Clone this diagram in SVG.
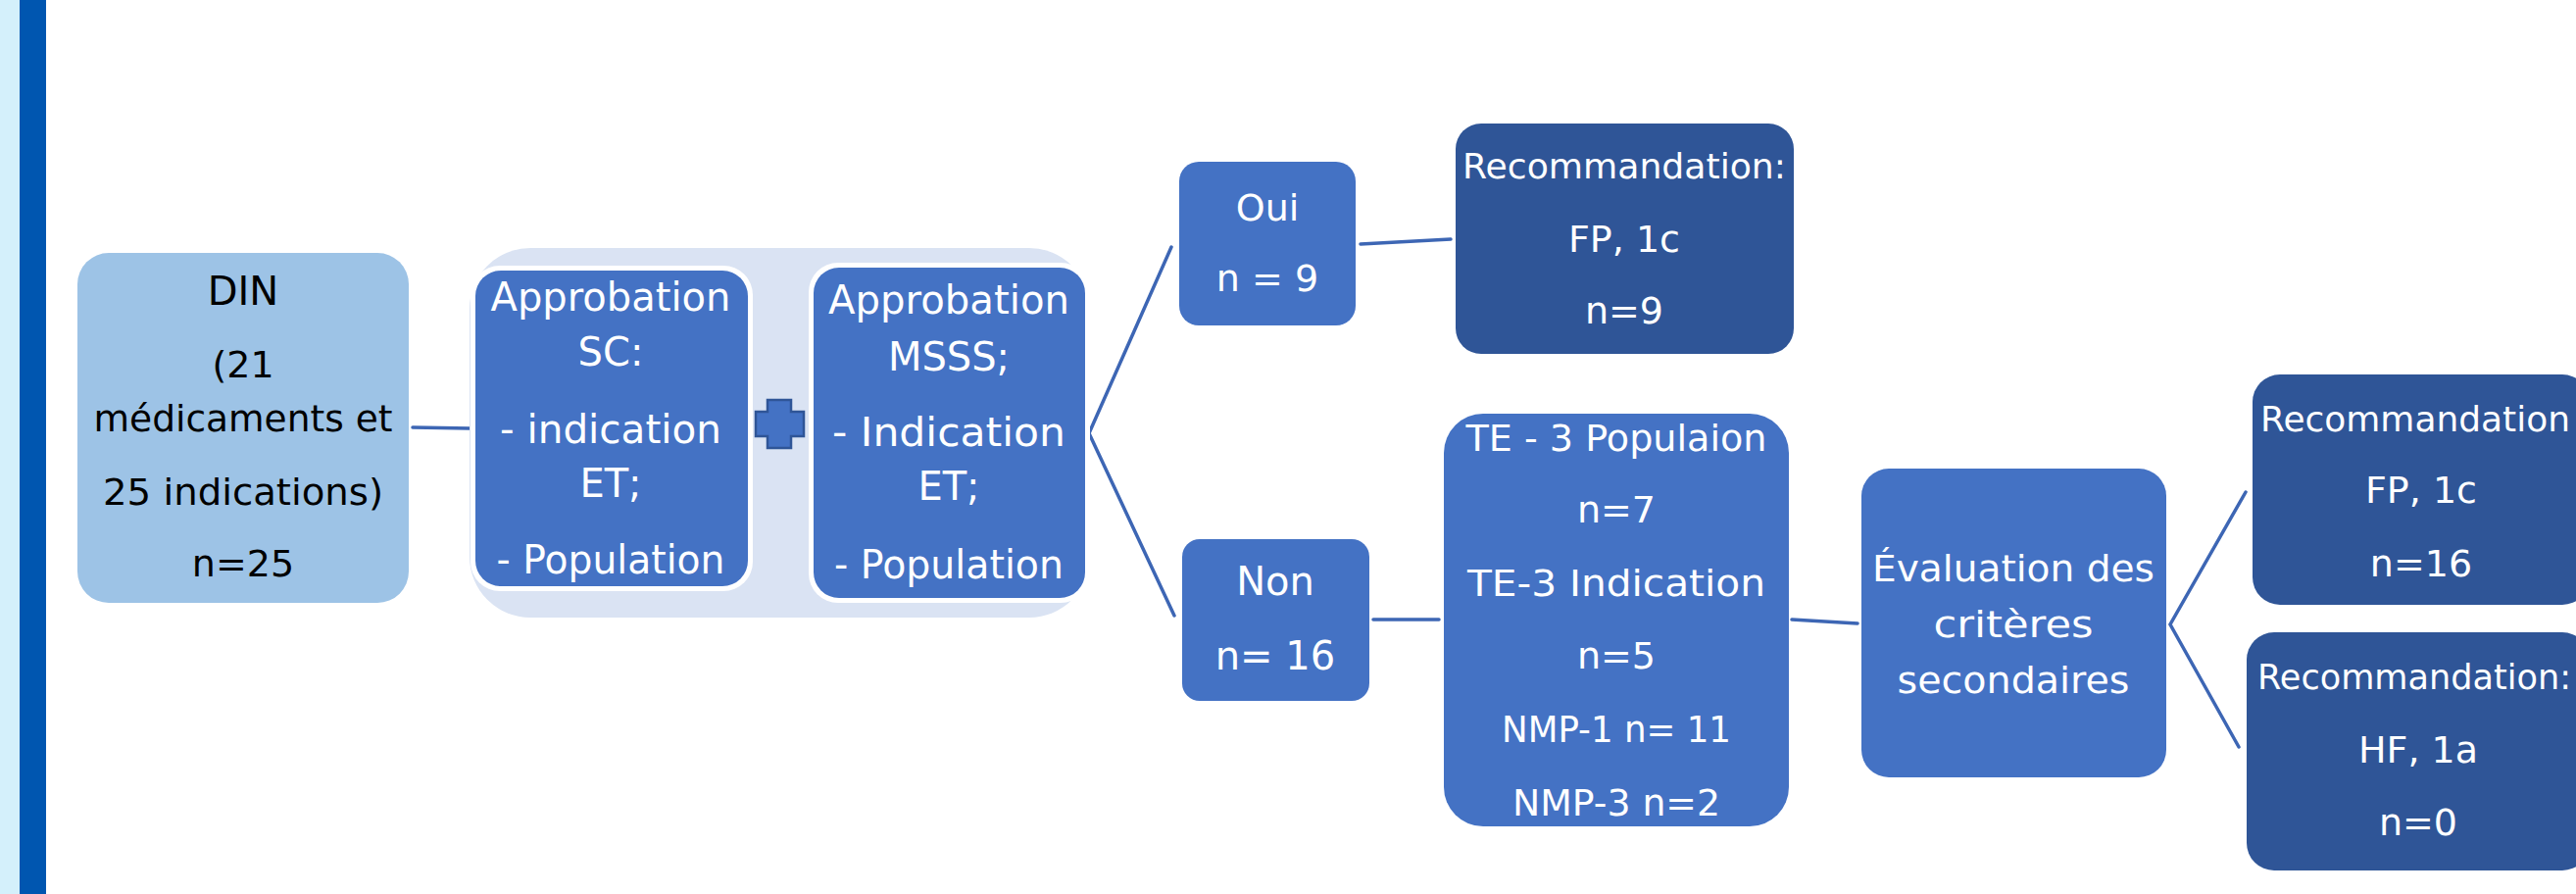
<svg xmlns="http://www.w3.org/2000/svg" width="2628" height="912" viewBox="0 0 2628 912">
<style>
  text { font-family: "DejaVu Sans", "Open Sans", sans-serif; text-anchor: middle; }
  .w { fill: #ffffff; }
  .k { fill: #000000; }
  .mid { fill: #4472C4; }
  .dark { fill: #2F5597; }
  .conn { stroke: #3D66B4; stroke-width: 3.5; fill: none; stroke-linecap: round; stroke-linejoin: miter; }
</style>
<rect x="0" y="0" width="2628" height="912" fill="#ffffff"/>
<rect x="0" y="0" width="20" height="912" fill="#D4F0FB"/>
<rect x="20" y="0" width="27" height="912" fill="#0056B0"/>

<g id="connectors">
  <line class="conn" x1="421" y1="436" x2="479" y2="437"/>
  <line class="conn" x1="767" y1="437" x2="826" y2="437"/>
  <polyline class="conn" points="1195,252 1111,442 1198,628"/>
  <line class="conn" x1="1388" y1="249" x2="1480" y2="244"/>
  <line class="conn" x1="1401" y1="632" x2="1468" y2="632"/>
  <line class="conn" x1="1828" y1="632" x2="1895" y2="636"/>
  <polyline class="conn" points="2291,502 2214,637 2284,762"/>
</g>

<g id="din">
  <rect x="79" y="258" width="338" height="357" rx="32" fill="#9DC3E6"/>
  <text class="k" font-size="40" x="248" y="311">DIN</text>
  <text class="k" font-size="38" x="248" y="385">(21</text>
  <text class="k" font-size="38" x="248" y="440" textLength="305" lengthAdjust="spacingAndGlyphs">médicaments et</text>
  <text class="k" font-size="38" x="248" y="515" textLength="286" lengthAdjust="spacingAndGlyphs">25 indications)</text>
  <text class="k" font-size="38" x="248" y="588">n=25</text>
</g>

<g id="approbation-group">
  <rect x="479" y="253" width="633" height="377" rx="62" fill="#DAE3F3"/>
</g>

<g id="approbation-sc">
  <rect x="480" y="271" width="288" height="332" rx="30" fill="#ffffff"/>
  <rect x="485" y="276" width="278" height="322" rx="26" class="mid"/>
  <text class="w" font-size="40" x="623" y="317" textLength="245" lengthAdjust="spacingAndGlyphs">Approbation</text>
  <text class="w" font-size="40" x="623" y="373">SC:</text>
  <text class="w" font-size="40" x="623" y="452" textLength="226" lengthAdjust="spacingAndGlyphs">- indication</text>
  <text class="w" font-size="40" x="623" y="507">ET;</text>
  <text class="w" font-size="40" x="623" y="585" textLength="233" lengthAdjust="spacingAndGlyphs">- Population</text>
</g>

<g id="plus">
  <polygon points="783,408 807,408 807,420 820,420 820,445 807,445 807,457 783,457 783,445 771,445 771,420 783,420" fill="#4472C4" stroke="#2F5597" stroke-width="2.5"/>
</g>

<g id="approbation-msss">
  <rect x="825" y="268" width="287" height="347" rx="30" fill="#ffffff"/>
  <rect x="830" y="273" width="277" height="337" rx="26" class="mid"/>
  <text class="w" font-size="40" x="968" y="320" textLength="246" lengthAdjust="spacingAndGlyphs">Approbation</text>
  <text class="w" font-size="40" x="968" y="378">MSSS;</text>
  <text class="w" font-size="40" x="968" y="455" textLength="238" lengthAdjust="spacingAndGlyphs">- Indication</text>
  <text class="w" font-size="40" x="968" y="510">ET;</text>
  <text class="w" font-size="40" x="968" y="590" textLength="234" lengthAdjust="spacingAndGlyphs">- Population</text>
</g>

<g id="oui">
  <rect x="1203" y="165" width="180" height="167" rx="20" class="mid"/>
  <text class="w" font-size="38" x="1293" y="225">Oui</text>
  <text class="w" font-size="38" x="1293" y="297">n = 9</text>
</g>

<g id="rec1">
  <rect x="1485" y="126" width="345" height="235" rx="26" class="dark"/>
  <text class="w" font-size="36" x="1657" y="182" textLength="330" lengthAdjust="spacingAndGlyphs">Recommandation:</text>
  <text class="w" font-size="38" x="1657" y="257">FP, 1c</text>
  <text class="w" font-size="38" x="1657" y="330">n=9</text>
</g>

<g id="non">
  <rect x="1206" y="550" width="191" height="165" rx="18" class="mid"/>
  <text class="w" font-size="40" x="1301" y="607">Non</text>
  <text class="w" font-size="40" x="1301" y="683">n= 16</text>
</g>

<g id="te">
  <rect x="1473" y="422" width="352" height="421" rx="40" class="mid"/>
  <text class="w" font-size="38" x="1649" y="460" textLength="307" lengthAdjust="spacingAndGlyphs">TE - 3 Populaion</text>
  <text class="w" font-size="38" x="1649" y="533">n=7</text>
  <text class="w" font-size="38" x="1649" y="608" textLength="304" lengthAdjust="spacingAndGlyphs">TE-3 Indication</text>
  <text class="w" font-size="38" x="1649" y="682">n=5</text>
  <text class="w" font-size="38" x="1649" y="757" textLength="234" lengthAdjust="spacingAndGlyphs">NMP-1 n= 11</text>
  <text class="w" font-size="38" x="1649" y="832" textLength="212" lengthAdjust="spacingAndGlyphs">NMP-3 n=2</text>
</g>

<g id="evaluation">
  <rect x="1899" y="478" width="311" height="315" rx="28" class="mid"/>
  <text class="w" font-size="38" x="2054" y="593" textLength="288" lengthAdjust="spacingAndGlyphs">Évaluation des</text>
  <text class="w" font-size="38" x="2054" y="650" textLength="163" lengthAdjust="spacingAndGlyphs">critères</text>
  <text class="w" font-size="38" x="2054" y="707" textLength="237" lengthAdjust="spacingAndGlyphs">secondaires</text>
</g>

<g id="rec2">
  <rect x="2298" y="382" width="344" height="235" rx="28" class="dark"/>
  <text class="w" font-size="36" x="2464" y="440" textLength="316" lengthAdjust="spacingAndGlyphs">Recommandation</text>
  <text class="w" font-size="38" x="2470" y="513">FP, 1c</text>
  <text class="w" font-size="38" x="2470" y="588">n=16</text>
</g>

<g id="rec3">
  <rect x="2292" y="645" width="350" height="243" rx="28" class="dark"/>
  <text class="w" font-size="36" x="2463" y="703" textLength="320" lengthAdjust="spacingAndGlyphs">Recommandation:</text>
  <text class="w" font-size="38" x="2467" y="778">HF, 1a</text>
  <text class="w" font-size="38" x="2467" y="852">n=0</text>
</g>
</svg>
